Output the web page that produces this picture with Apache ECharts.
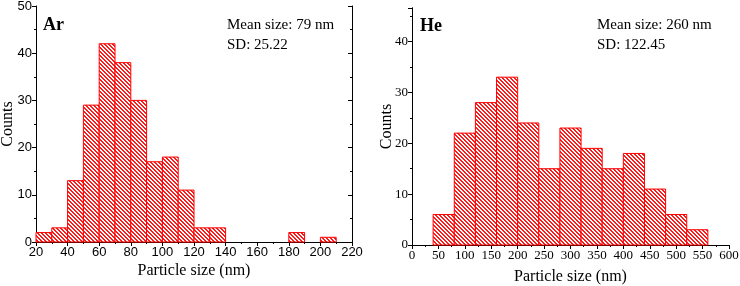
<!DOCTYPE html>
<html>
<head>
<meta charset="utf-8">
<script src="https://cdn.jsdelivr.net/npm/echarts@6/dist/echarts.min.js"></script>
<style>html,body{margin:0;padding:0;background:#fff}#c{width:740px;height:286px}</style>
</head>
<body>
<div id="c"></div>
<script>
// Ar histogram (bin width 10 nm)
const arBinStarts = [20,30,40,50,60,70,80,90,100,110,120,130,180,200];
const arCounts    = [2, 3, 13,29,42,38,30,17,18, 11, 3,  3,  2,  1];
const arBinWidth  = 10;
// He histogram (bin width 40 nm)
const heBinStarts = [40,80,120,160,200,240,280,320,360,400,440,480,520];
const heCounts    = [6, 22,28, 33, 24, 15, 23, 19, 15, 18, 11, 6,  3];
const heBinWidth  = 40;

const arXTicks = {min:20, max:220, interval:20};
const arYTicks = {min:0, max:50, interval:10};
const heXTicks = {min:0, max:600, interval:50};
const heYTicks = {min:0, max:46.6, interval:10};

function hatch(){
  const c = document.createElement('canvas');
  c.width = 4; c.height = 4;
  const g = c.getContext('2d');
  g.fillStyle = '#fff'; g.fillRect(0,0,4,4);
  g.fillStyle = '#ff1a1a';
  for(let i=0;i<4;i++){ g.fillRect(i,i,1,1); g.fillRect((i+1)%4,i,1,1); }
  return c;
}
const pat = {image: hatch(), repeat: 'repeat'};

function histData(starts, counts, w){ return starts.map((s,i)=>[s, s+w, counts[i]]); }
function renderBar(params, api){
  const p0 = api.coord([api.value(0), 0]);
  const p1 = api.coord([api.value(1), api.value(2)]);
  return {type:'rect', shape:{x:p0[0], y:p1[1], width:p1[0]-p0[0], height:p0[1]-p1[1]},
    style:{fill:pat, stroke:'#ff0000', lineWidth:1}};
}

const serif = 'Liberation Serif';
const sans = 'Liberation Sans';

function xAxes(t, gi, labFont, labSize, gap){
  return [{
    type:'value', gridIndex:gi, min:t.min, max:t.max, interval:t.interval, position:'bottom',
    splitLine:{show:false},
    axisLine:{lineStyle:{color:'#000', width:1}},
    axisTick:{inside:false, length:4, lineStyle:{color:'#000'}},
    minorTick:{show:true, splitNumber:2, length:2, lineStyle:{color:'#000'}},
    axisLabel:{color:'#000', fontFamily:labFont, fontSize:labSize, margin:4, hideOverlap:false},
    name:'Particle size (nm)', nameLocation:'middle', nameGap:gap, nameMoveOverlap:false,
    nameTextStyle:{color:'#000', fontFamily:serif, fontSize:16}
  },{
    type:'value', gridIndex:gi, min:t.min, max:t.max, interval:t.interval, position:'top',
    splitLine:{show:false},
    axisLine:{lineStyle:{color:'#000', width:1}},
    axisTick:{inside:true, length:4, lineStyle:{color:'#000'}},
    minorTick:{show:true, splitNumber:2, length:2, lineStyle:{color:'#000'}},
    axisLabel:{show:false}
  }];
}
function yAxes(t, gi, labFont, labSize, gap){
  return [{
    type:'value', gridIndex:gi, min:t.min, max:t.max, interval:t.interval, position:'left',
    splitLine:{show:false},
    axisLine:{show:true, lineStyle:{color:'#000', width:1}},
    axisTick:{show:true, inside:false, length:4, lineStyle:{color:'#000'}},
    minorTick:{show:true, splitNumber:2, length:2, lineStyle:{color:'#000'}},
    axisLabel:{color:'#000', fontFamily:labFont, fontSize:labSize, margin:4, showMaxLabel: t.max % t.interval === 0},
    name:'Counts', nameLocation:'middle', nameGap:gap, nameMoveOverlap:false,
    nameTextStyle:{color:'#000', fontFamily:serif, fontSize:16}
  },{
    type:'value', gridIndex:gi, min:t.min, max:t.max, interval:t.interval, position:'right',
    splitLine:{show:false},
    axisLine:{show:true, lineStyle:{color:'#000', width:1}},
    axisTick:{show:true, inside:true, length:4, lineStyle:{color:'#000'}},
    minorTick:{show:true, splitNumber:2, length:2, lineStyle:{color:'#000'}},
    axisLabel:{show:false}
  }];
}

const chart = echarts.init(document.getElementById('c'), null, {renderer:'canvas'});
chart.setOption({
  animation:false,
  backgroundColor:'#fff',
  grid:[
    {left:36, top:6, width:316, height:236, containLabel:false, outerBoundsMode:'none'},
    {left:412, top:8, width:317, height:237, containLabel:false, outerBoundsMode:'none'}
  ],
  xAxis:[...xAxes(arXTicks,0,sans,13,21), ...xAxes(heXTicks,1,serif,13,24)],
  yAxis:[...yAxes(arYTicks,0,sans,13,20), ...yAxes(heYTicks,1,serif,13,17)],
  series:[
    {type:'custom', xAxisIndex:0, yAxisIndex:0, data:histData(arBinStarts,arCounts,arBinWidth), renderItem:renderBar, encode:{x:[0,1], y:2}},
    {type:'custom', xAxisIndex:2, yAxisIndex:2, data:histData(heBinStarts,heCounts,heBinWidth), renderItem:renderBar, encode:{x:[0,1], y:2}}
  ],
  graphic:[
    {type:'text', left:43, top:16, style:{text:'Ar', font:'bold 18px "Liberation Serif"', fill:'#000'}},
    {type:'text', left:227, top:18, style:{text:'Mean size: 79 nm', font:'15px "Liberation Serif"', fill:'#000'}},
    {type:'text', left:227, top:38, style:{text:'SD: 25.22', font:'15px "Liberation Serif"', fill:'#000'}},
    {type:'text', left:420, top:17, style:{text:'He', font:'bold 18px "Liberation Serif"', fill:'#000'}},
    {type:'text', left:597, top:18, style:{text:'Mean size: 260 nm', font:'15px "Liberation Serif"', fill:'#000'}},
    {type:'text', left:597, top:38, style:{text:'SD: 122.45', font:'15px "Liberation Serif"', fill:'#000'}}
  ]
});
</script>
</body>
</html>
